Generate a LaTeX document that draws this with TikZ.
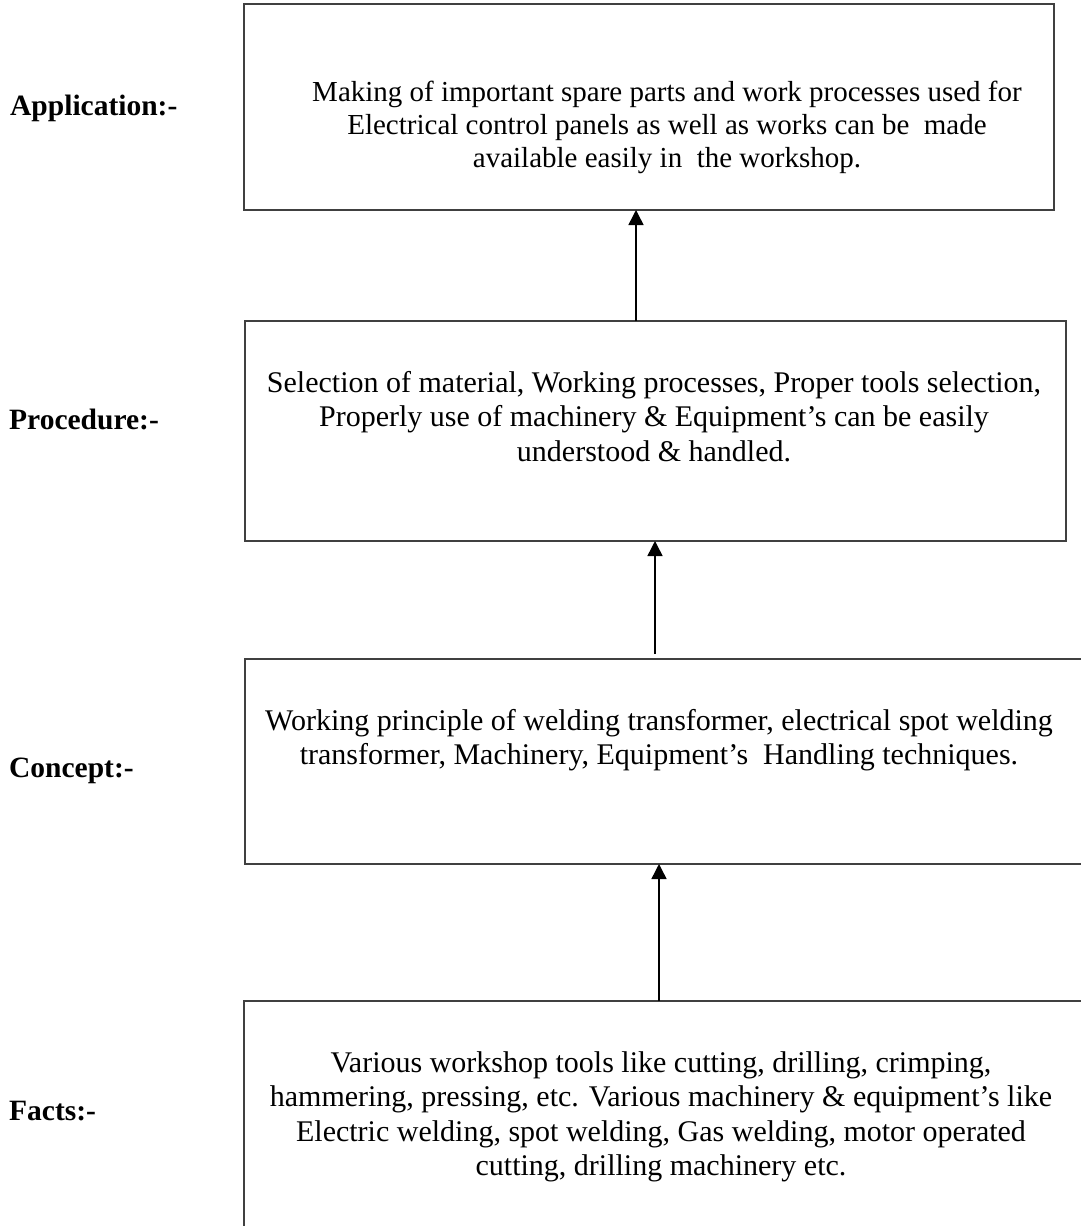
\documentclass[tikz,border=0pt]{standalone}
\usepackage{fontspec}
\setmainfont{Liberation Serif}
\usetikzlibrary{arrows.meta}
\tikzset{
  boxframe/.style={draw=black!75, line width=1.3pt, inner sep=0pt, outer sep=0pt, rectangle},
  boxtext/.style={anchor=north, inner sep=0pt, align=center, font=\fontsize{30}{34.5}\selectfont},
  sidelabel/.style={anchor=base west, inner sep=0pt, font=\fontsize{29.5}{34}\selectfont\bfseries},
  arr/.style={line width=1.5pt, -{Triangle[width=15pt,length=15pt]}}
}
\begin{document}
\begin{tikzpicture}[x=1pt,y=-1pt]
\useasboundingbox (0,0) rectangle (1081,1226);
\clip (0,0) rectangle (1081,1226);
\fill[white] (0,0) rectangle (1081,1226);

% boxes
\node[boxframe, minimum width=810pt, minimum height=206pt] (b1) at (649,107) {};
\node[boxframe, minimum width=821pt, minimum height=220pt] (b2) at (655.5,431) {};
\node[boxframe, minimum width=845pt, minimum height=205pt] (b3) at (667.5,761.5) {};
\node[boxframe, minimum width=846pt, minimum height=259pt] (b4) at (667,1130.5) {};

% box texts
\node[boxtext, font=\fontsize{29}{33.4}\selectfont] (t1) at (667,77.6) {\strut Making of important spare parts and work processes used for\\Electrical control panels as well as works can be\ \ made\\available easily in\ \ the workshop.};
\node[boxtext] (t2) at (654,367.85) {\strut Selection of material, Working processes, Proper tools selection,\\Properly use of machinery \& Equipment’s can be easily\\understood \& handled.};
\node[boxtext] (t3) at (659,705.85) {\strut Working principle of welding transformer, electrical spot welding\\transformer, Machinery, Equipment’s\ \ Handling techniques.};
\node[boxtext] (t4) at (661,1047.85) {\strut Various workshop tools like cutting, drilling, crimping,\\hammering, pressing, etc. Various machinery \& equipment’s like\\Electric welding, spot welding, Gas welding, motor operated\\cutting, drilling machinery etc.};

% side labels
\node[sidelabel] (l1) at (10,115) {Application:-};
\node[sidelabel] (l2) at (9,429) {Procedure:-};
\node[sidelabel] (l3) at (9,777) {Concept:-};
\node[sidelabel] (l4) at (9,1120) {Facts:-};

% connectors
\coordinate (a1) at (636,0);
\coordinate (a2s) at (655,654);
\coordinate (a3) at (659,0);
\draw[arr] (a1 |- b2.north) -- (a1 |- b1.south);
\draw[arr] (a2s) -- (a2s |- b2.south);
\draw[arr] (a3 |- b4.north) -- (a3 |- b3.south);
\end{tikzpicture}
\end{document}
